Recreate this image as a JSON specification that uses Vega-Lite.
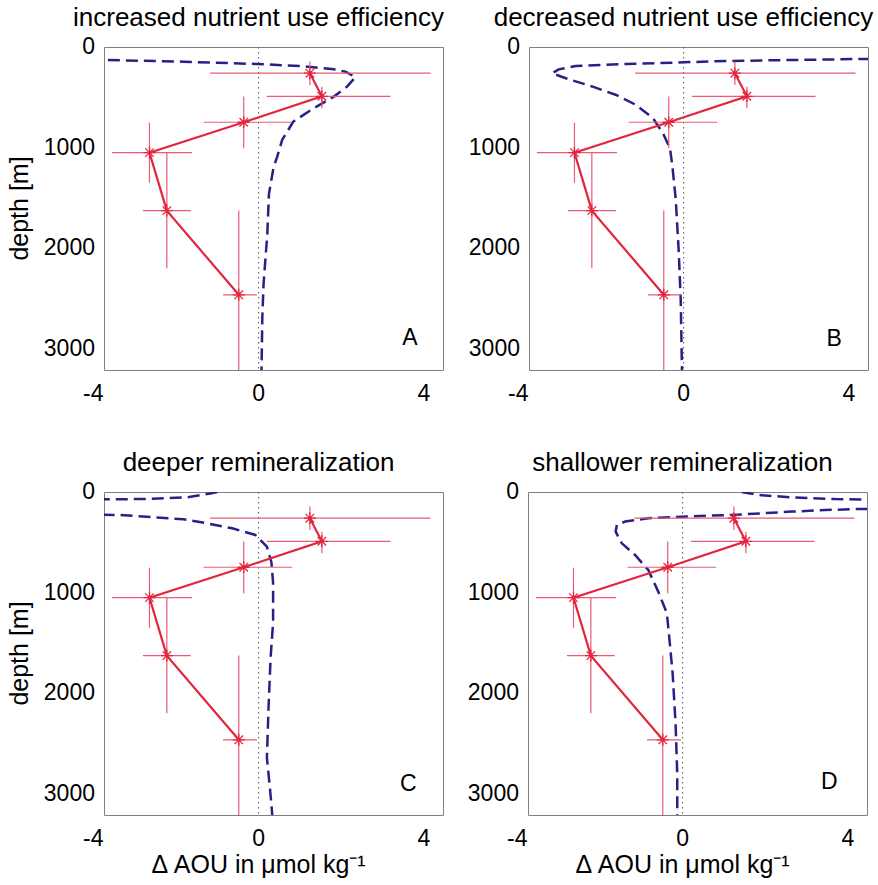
{
  "$schema": "https://vega.github.io/schema/vega-lite/v6.json",
  "background": "white",
  "padding": {"left": 7, "top": 4, "right": 5, "bottom": 5},
  "config": {
    "font": "Liberation Sans",
    "view": {"stroke": "#808080", "strokeWidth": 1},
    "title": {"fontSize": 26, "fontWeight": "normal", "color": "black", "font": "Liberation Sans", "baseline": "alphabetic", "offset": 5},
    "text": {"font": "Liberation Sans", "color": "black"}
  },
  "datasets": {
    "obs": [
      {"v": 1.24, "depth": 260, "vlo": -1.17, "vhi": 4.16, "dlo": 145, "dhi": 377},
      {"v": 1.53, "depth": 490, "vlo": 0.2, "vhi": 3.19, "dlo": 394, "dhi": 609},
      {"v": -0.36, "depth": 748, "vlo": -1.33, "vhi": 0.81, "dlo": 493, "dhi": 1006},
      {"v": -2.64, "depth": 1050, "vlo": -3.55, "vhi": -1.61, "dlo": 752, "dhi": 1350},
      {"v": -2.22, "depth": 1626, "vlo": -2.8, "vhi": -1.64, "dlo": 1050, "dhi": 2198},
      {"v": -0.48, "depth": 2463, "vlo": -0.86, "vhi": -0.04, "dlo": 1626, "dhi": 3300}
    ],
    "zero": [{"v": 0}],
    "xticks": [{"v": -4, "label": "-4"}, {"v": 0, "label": "0"}, {"v": 4, "label": "4"}],
    "yticks": [{"depth": 0, "label": "0"}, {"depth": 1000, "label": "1000"}, {"depth": 2000, "label": "2000"}, {"depth": 3000, "label": "3000"}],
    "ytitle": [{"label": "depth [m]"}],
    "xtitle": [{"label": "Δ AOU in μmol kg⁻¹"}],
    "letters": [
      {"panel": "A", "v": 3.66, "depth": 2893},
      {"panel": "B", "v": 3.64, "depth": 2905},
      {"panel": "C", "v": 3.62, "depth": 2900},
      {"panel": "D", "v": 3.55, "depth": 2887}
    ],
    "model": [
      {"panel": "A", "i": 0, "v": -8, "depth": 120},
      {"panel": "A", "i": 1, "v": -3.8, "depth": 129},
      {"panel": "A", "i": 2, "v": -1.82, "depth": 146},
      {"panel": "A", "i": 3, "v": -0.04, "depth": 169},
      {"panel": "A", "i": 4, "v": 1.01, "depth": 189},
      {"panel": "A", "i": 5, "v": 1.82, "depth": 222},
      {"panel": "A", "i": 6, "v": 2.1, "depth": 245},
      {"panel": "A", "i": 7, "v": 2.34, "depth": 300},
      {"panel": "A", "i": 8, "v": 2.14, "depth": 394},
      {"panel": "A", "i": 9, "v": 1.82, "depth": 493},
      {"panel": "A", "i": 10, "v": 1.33, "depth": 609},
      {"panel": "A", "i": 11, "v": 0.84, "depth": 741},
      {"panel": "A", "i": 12, "v": 0.57, "depth": 923},
      {"panel": "A", "i": 13, "v": 0.45, "depth": 1089},
      {"panel": "A", "i": 14, "v": 0.36, "depth": 1200},
      {"panel": "A", "i": 15, "v": 0.25, "depth": 1460},
      {"panel": "A", "i": 16, "v": 0.21, "depth": 1860},
      {"panel": "A", "i": 17, "v": 0.12, "depth": 2350},
      {"panel": "A", "i": 18, "v": 0.09, "depth": 2680},
      {"panel": "A", "i": 19, "v": 0.07, "depth": 3210},
      {"panel": "B", "i": 0, "v": 8, "depth": 110},
      {"panel": "B", "i": 1, "v": 4.3, "depth": 119},
      {"panel": "B", "i": 2, "v": 2.67, "depth": 129},
      {"panel": "B", "i": 3, "v": 1.05, "depth": 139},
      {"panel": "B", "i": 4, "v": 0, "depth": 152},
      {"panel": "B", "i": 5, "v": -1.39, "depth": 169},
      {"panel": "B", "i": 6, "v": -2.61, "depth": 189},
      {"panel": "B", "i": 7, "v": -3.02, "depth": 222},
      {"panel": "B", "i": 8, "v": -3.18, "depth": 261},
      {"panel": "B", "i": 9, "v": -2.85, "depth": 311},
      {"panel": "B", "i": 10, "v": -2.2, "depth": 394},
      {"panel": "B", "i": 11, "v": -1.63, "depth": 477},
      {"panel": "B", "i": 12, "v": -1.15, "depth": 576},
      {"panel": "B", "i": 13, "v": -0.74, "depth": 708},
      {"panel": "B", "i": 14, "v": -0.5, "depth": 857},
      {"panel": "B", "i": 15, "v": -0.33, "depth": 1006},
      {"panel": "B", "i": 16, "v": -0.27, "depth": 1189},
      {"panel": "B", "i": 17, "v": -0.19, "depth": 1519},
      {"panel": "B", "i": 18, "v": -0.12, "depth": 2016},
      {"panel": "B", "i": 19, "v": -0.07, "depth": 2512},
      {"panel": "B", "i": 20, "v": -0.04, "depth": 3210},
      {"panel": "C", "i": 0, "v": -1.0, "depth": 0},
      {"panel": "C", "i": 1, "v": -1.17, "depth": 15},
      {"panel": "C", "i": 2, "v": -1.73, "depth": 53},
      {"panel": "C", "i": 3, "v": -2.82, "depth": 70},
      {"panel": "C", "i": 4, "v": -3.75, "depth": 73},
      {"panel": "C", "i": 5, "v": -7, "depth": 80},
      {"panel": "C", "i": 6, "v": -7, "depth": 220},
      {"panel": "C", "i": 7, "v": -3.35, "depth": 228},
      {"panel": "C", "i": 8, "v": -2.5, "depth": 252},
      {"panel": "C", "i": 9, "v": -1.82, "depth": 271},
      {"panel": "C", "i": 10, "v": -1.25, "depth": 311},
      {"panel": "C", "i": 11, "v": -0.64, "depth": 361},
      {"panel": "C", "i": 12, "v": -0.08, "depth": 427},
      {"panel": "C", "i": 13, "v": 0.2, "depth": 543},
      {"panel": "C", "i": 14, "v": 0.31, "depth": 700},
      {"panel": "C", "i": 15, "v": 0.35, "depth": 900},
      {"panel": "C", "i": 16, "v": 0.35, "depth": 1300},
      {"panel": "C", "i": 17, "v": 0.29, "depth": 1645},
      {"panel": "C", "i": 18, "v": 0.24, "depth": 2142},
      {"panel": "C", "i": 19, "v": 0.2, "depth": 2638},
      {"panel": "C", "i": 20, "v": 0.28, "depth": 2969},
      {"panel": "C", "i": 21, "v": 0.33, "depth": 3210},
      {"panel": "D", "i": 0, "v": 1.43, "depth": 0},
      {"panel": "D", "i": 1, "v": 1.84, "depth": 30},
      {"panel": "D", "i": 2, "v": 2.64, "depth": 53},
      {"panel": "D", "i": 3, "v": 3.69, "depth": 70},
      {"panel": "D", "i": 4, "v": 7, "depth": 90},
      {"panel": "D", "i": 5, "v": 7, "depth": 160},
      {"panel": "D", "i": 6, "v": 4.26, "depth": 169},
      {"panel": "D", "i": 7, "v": 3.45, "depth": 179},
      {"panel": "D", "i": 8, "v": 2.64, "depth": 195},
      {"panel": "D", "i": 9, "v": 1.19, "depth": 228},
      {"panel": "D", "i": 10, "v": -0.02, "depth": 245},
      {"panel": "D", "i": 11, "v": -0.83, "depth": 261},
      {"panel": "D", "i": 12, "v": -1.39, "depth": 294},
      {"panel": "D", "i": 13, "v": -1.59, "depth": 328},
      {"panel": "D", "i": 14, "v": -1.62, "depth": 394},
      {"panel": "D", "i": 15, "v": -1.47, "depth": 510},
      {"panel": "D", "i": 16, "v": -1.15, "depth": 626},
      {"panel": "D", "i": 17, "v": -0.83, "depth": 775},
      {"panel": "D", "i": 18, "v": -0.59, "depth": 990},
      {"panel": "D", "i": 19, "v": -0.38, "depth": 1205},
      {"panel": "D", "i": 20, "v": -0.3, "depth": 1546},
      {"panel": "D", "i": 21, "v": -0.24, "depth": 1810},
      {"panel": "D", "i": 22, "v": -0.17, "depth": 2307},
      {"panel": "D", "i": 23, "v": -0.13, "depth": 2803},
      {"panel": "D", "i": 24, "v": -0.13, "depth": 3210}
    ]
  },
  "spacing": 42,
  "vconcat": [
    {"spacing": 23, "hconcat": [
    {
      "width": 339, "height": 323,
      "title": {"text": "increased nutrient use efficiency", "dx": -15},
      "layer": [
        {"data": {"name": "zero"}, "mark": {"type": "rule", "color": "#555555", "strokeDash": [1.5, 3.5], "strokeWidth": 1},
         "encoding": {"x": {"field": "v", "type": "quantitative", "scale": {"domain": [-3.74, 4.46], "nice": false, "zero": false}, "axis": null}}},
        {"data": {"name": "model"}, "transform": [{"filter": "datum.panel === 'A'"}],
         "mark": {"type": "line", "color": "#2b1e87", "strokeWidth": 2.5, "strokeDash": [12, 6], "clip": true},
         "encoding": {
           "x": {"field": "v", "type": "quantitative", "scale": {"domain": [-3.74, 4.46], "nice": false, "zero": false}, "axis": null},
           "y": {"field": "depth", "type": "quantitative", "scale": {"domain": [0, 3210], "reverse": true, "nice": false, "zero": false}, "axis": null},
           "order": {"field": "i", "type": "quantitative"}}},
        {"data": {"name": "obs"}, "mark": {"type": "rule", "color": "#ec5a74", "strokeWidth": 1.2, "clip": true},
         "encoding": {
           "x": {"field": "vlo", "type": "quantitative", "scale": {"domain": [-3.74, 4.46], "nice": false, "zero": false}, "axis": null},
           "x2": {"field": "vhi"},
           "y": {"field": "depth", "type": "quantitative", "scale": {"domain": [0, 3210], "reverse": true, "nice": false, "zero": false}, "axis": null}}},
        {"data": {"name": "obs"}, "mark": {"type": "rule", "color": "#ec5a74", "strokeWidth": 1.2, "clip": true},
         "encoding": {
           "x": {"field": "v", "type": "quantitative", "scale": {"domain": [-3.74, 4.46], "nice": false, "zero": false}, "axis": null},
           "y": {"field": "dlo", "type": "quantitative", "scale": {"domain": [0, 3210], "reverse": true, "nice": false, "zero": false}, "axis": null},
           "y2": {"field": "dhi"}}},
        {"data": {"name": "obs"}, "mark": {"type": "line", "color": "#e3263f", "strokeWidth": 2.2, "clip": true},
         "encoding": {
           "x": {"field": "v", "type": "quantitative", "scale": {"domain": [-3.74, 4.46], "nice": false, "zero": false}, "axis": null},
           "y": {"field": "depth", "type": "quantitative", "scale": {"domain": [0, 3210], "reverse": true, "nice": false, "zero": false}, "axis": null},
           "order": {"field": "depth", "type": "quantitative"}}},
        {"data": {"name": "obs"}, "mark": {"type": "point", "shape": "M-1,0L1,0M0,-1L0,1M-0.71,-0.71L0.71,0.71M-0.71,0.71L0.71,-0.71", "filled": false, "color": "#e3263f", "strokeWidth": 1.3, "size": 144, "opacity": 1},
         "encoding": {
           "x": {"field": "v", "type": "quantitative", "scale": {"domain": [-3.74, 4.46], "nice": false, "zero": false}, "axis": null},
           "y": {"field": "depth", "type": "quantitative", "scale": {"domain": [0, 3210], "reverse": true, "nice": false, "zero": false}, "axis": null}}},
        {"data": {"name": "letters"}, "transform": [{"filter": "datum.panel === 'A'"}],
         "mark": {"type": "text", "fontSize": 23, "align": "center", "baseline": "middle"},
         "encoding": {
           "x": {"field": "v", "type": "quantitative", "scale": {"domain": [-3.74, 4.46], "nice": false, "zero": false}, "axis": null},
           "y": {"field": "depth", "type": "quantitative", "scale": {"domain": [0, 3210], "reverse": true, "nice": false, "zero": false}, "axis": null},
           "text": {"field": "panel"}}},
        {"data": {"name": "xticks"}, "mark": {"type": "text", "fontSize": 23, "align": "center", "baseline": "alphabetic", "dy": 31},
         "encoding": {
           "x": {"field": "v", "type": "quantitative", "scale": {"domain": [-3.74, 4.46], "nice": false, "zero": false}, "axis": null},
           "y": {"datum": 3210, "type": "quantitative", "scale": {"domain": [0, 3210], "reverse": true, "nice": false, "zero": false}, "axis": null},
           "text": {"field": "label"}}},
        {"data": {"name": "yticks"}, "mark": {"type": "text", "fontSize": 23, "align": "right", "baseline": "middle", "dx": -9},
         "encoding": {
           "x": {"datum": -3.74, "type": "quantitative", "scale": {"domain": [-3.74, 4.46], "nice": false, "zero": false}, "axis": null},
           "y": {"field": "depth", "type": "quantitative", "scale": {"domain": [0, 3210], "reverse": true, "nice": false, "zero": false}, "axis": null},
           "text": {"field": "label"}}},
        {"data": {"name": "ytitle"}, "mark": {"type": "text", "fontSize": 25, "align": "center", "baseline": "alphabetic", "angle": 270, "dy": -76},
         "encoding": {
           "x": {"datum": -3.74, "type": "quantitative", "scale": {"domain": [-3.74, 4.46], "nice": false, "zero": false}, "axis": null},
           "y": {"datum": 1605, "type": "quantitative", "scale": {"domain": [0, 3210], "reverse": true, "nice": false, "zero": false}, "axis": null},
           "text": {"field": "label"}}}
      ]
    },
    {
      "width": 339, "height": 323,
      "title": {"text": "decreased nutrient use efficiency", "dx": -15},
      "layer": [
        {"data": {"name": "zero"}, "mark": {"type": "rule", "color": "#555555", "strokeDash": [1.5, 3.5], "strokeWidth": 1},
         "encoding": {"x": {"field": "v", "type": "quantitative", "scale": {"domain": [-3.74, 4.46], "nice": false, "zero": false}, "axis": null}}},
        {"data": {"name": "model"}, "transform": [{"filter": "datum.panel === 'B'"}],
         "mark": {"type": "line", "color": "#2b1e87", "strokeWidth": 2.5, "strokeDash": [12, 6], "clip": true},
         "encoding": {
           "x": {"field": "v", "type": "quantitative", "scale": {"domain": [-3.74, 4.46], "nice": false, "zero": false}, "axis": null},
           "y": {"field": "depth", "type": "quantitative", "scale": {"domain": [0, 3210], "reverse": true, "nice": false, "zero": false}, "axis": null},
           "order": {"field": "i", "type": "quantitative"}}},
        {"data": {"name": "obs"}, "mark": {"type": "rule", "color": "#ec5a74", "strokeWidth": 1.2, "clip": true},
         "encoding": {
           "x": {"field": "vlo", "type": "quantitative", "scale": {"domain": [-3.74, 4.46], "nice": false, "zero": false}, "axis": null},
           "x2": {"field": "vhi"},
           "y": {"field": "depth", "type": "quantitative", "scale": {"domain": [0, 3210], "reverse": true, "nice": false, "zero": false}, "axis": null}}},
        {"data": {"name": "obs"}, "mark": {"type": "rule", "color": "#ec5a74", "strokeWidth": 1.2, "clip": true},
         "encoding": {
           "x": {"field": "v", "type": "quantitative", "scale": {"domain": [-3.74, 4.46], "nice": false, "zero": false}, "axis": null},
           "y": {"field": "dlo", "type": "quantitative", "scale": {"domain": [0, 3210], "reverse": true, "nice": false, "zero": false}, "axis": null},
           "y2": {"field": "dhi"}}},
        {"data": {"name": "obs"}, "mark": {"type": "line", "color": "#e3263f", "strokeWidth": 2.2, "clip": true},
         "encoding": {
           "x": {"field": "v", "type": "quantitative", "scale": {"domain": [-3.74, 4.46], "nice": false, "zero": false}, "axis": null},
           "y": {"field": "depth", "type": "quantitative", "scale": {"domain": [0, 3210], "reverse": true, "nice": false, "zero": false}, "axis": null},
           "order": {"field": "depth", "type": "quantitative"}}},
        {"data": {"name": "obs"}, "mark": {"type": "point", "shape": "M-1,0L1,0M0,-1L0,1M-0.71,-0.71L0.71,0.71M-0.71,0.71L0.71,-0.71", "filled": false, "color": "#e3263f", "strokeWidth": 1.3, "size": 144, "opacity": 1},
         "encoding": {
           "x": {"field": "v", "type": "quantitative", "scale": {"domain": [-3.74, 4.46], "nice": false, "zero": false}, "axis": null},
           "y": {"field": "depth", "type": "quantitative", "scale": {"domain": [0, 3210], "reverse": true, "nice": false, "zero": false}, "axis": null}}},
        {"data": {"name": "letters"}, "transform": [{"filter": "datum.panel === 'B'"}],
         "mark": {"type": "text", "fontSize": 23, "align": "center", "baseline": "middle"},
         "encoding": {
           "x": {"field": "v", "type": "quantitative", "scale": {"domain": [-3.74, 4.46], "nice": false, "zero": false}, "axis": null},
           "y": {"field": "depth", "type": "quantitative", "scale": {"domain": [0, 3210], "reverse": true, "nice": false, "zero": false}, "axis": null},
           "text": {"field": "panel"}}},
        {"data": {"name": "xticks"}, "mark": {"type": "text", "fontSize": 23, "align": "center", "baseline": "alphabetic", "dy": 31},
         "encoding": {
           "x": {"field": "v", "type": "quantitative", "scale": {"domain": [-3.74, 4.46], "nice": false, "zero": false}, "axis": null},
           "y": {"datum": 3210, "type": "quantitative", "scale": {"domain": [0, 3210], "reverse": true, "nice": false, "zero": false}, "axis": null},
           "text": {"field": "label"}}},
        {"data": {"name": "yticks"}, "mark": {"type": "text", "fontSize": 23, "align": "right", "baseline": "middle", "dx": -9},
         "encoding": {
           "x": {"datum": -3.74, "type": "quantitative", "scale": {"domain": [-3.74, 4.46], "nice": false, "zero": false}, "axis": null},
           "y": {"field": "depth", "type": "quantitative", "scale": {"domain": [0, 3210], "reverse": true, "nice": false, "zero": false}, "axis": null},
           "text": {"field": "label"}}}
      ]
    }]},
    {"spacing": 23, "hconcat": [
    {
      "width": 339, "height": 323,
      "title": {"text": "deeper remineralization", "dx": -15},
      "layer": [
        {"data": {"name": "zero"}, "mark": {"type": "rule", "color": "#555555", "strokeDash": [1.5, 3.5], "strokeWidth": 1},
         "encoding": {"x": {"field": "v", "type": "quantitative", "scale": {"domain": [-3.74, 4.46], "nice": false, "zero": false}, "axis": null}}},
        {"data": {"name": "model"}, "transform": [{"filter": "datum.panel === 'C'"}],
         "mark": {"type": "line", "color": "#2b1e87", "strokeWidth": 2.5, "strokeDash": [12, 6], "clip": true},
         "encoding": {
           "x": {"field": "v", "type": "quantitative", "scale": {"domain": [-3.74, 4.46], "nice": false, "zero": false}, "axis": null},
           "y": {"field": "depth", "type": "quantitative", "scale": {"domain": [0, 3210], "reverse": true, "nice": false, "zero": false}, "axis": null},
           "order": {"field": "i", "type": "quantitative"}}},
        {"data": {"name": "obs"}, "mark": {"type": "rule", "color": "#ec5a74", "strokeWidth": 1.2, "clip": true},
         "encoding": {
           "x": {"field": "vlo", "type": "quantitative", "scale": {"domain": [-3.74, 4.46], "nice": false, "zero": false}, "axis": null},
           "x2": {"field": "vhi"},
           "y": {"field": "depth", "type": "quantitative", "scale": {"domain": [0, 3210], "reverse": true, "nice": false, "zero": false}, "axis": null}}},
        {"data": {"name": "obs"}, "mark": {"type": "rule", "color": "#ec5a74", "strokeWidth": 1.2, "clip": true},
         "encoding": {
           "x": {"field": "v", "type": "quantitative", "scale": {"domain": [-3.74, 4.46], "nice": false, "zero": false}, "axis": null},
           "y": {"field": "dlo", "type": "quantitative", "scale": {"domain": [0, 3210], "reverse": true, "nice": false, "zero": false}, "axis": null},
           "y2": {"field": "dhi"}}},
        {"data": {"name": "obs"}, "mark": {"type": "line", "color": "#e3263f", "strokeWidth": 2.2, "clip": true},
         "encoding": {
           "x": {"field": "v", "type": "quantitative", "scale": {"domain": [-3.74, 4.46], "nice": false, "zero": false}, "axis": null},
           "y": {"field": "depth", "type": "quantitative", "scale": {"domain": [0, 3210], "reverse": true, "nice": false, "zero": false}, "axis": null},
           "order": {"field": "depth", "type": "quantitative"}}},
        {"data": {"name": "obs"}, "mark": {"type": "point", "shape": "M-1,0L1,0M0,-1L0,1M-0.71,-0.71L0.71,0.71M-0.71,0.71L0.71,-0.71", "filled": false, "color": "#e3263f", "strokeWidth": 1.3, "size": 144, "opacity": 1},
         "encoding": {
           "x": {"field": "v", "type": "quantitative", "scale": {"domain": [-3.74, 4.46], "nice": false, "zero": false}, "axis": null},
           "y": {"field": "depth", "type": "quantitative", "scale": {"domain": [0, 3210], "reverse": true, "nice": false, "zero": false}, "axis": null}}},
        {"data": {"name": "letters"}, "transform": [{"filter": "datum.panel === 'C'"}],
         "mark": {"type": "text", "fontSize": 23, "align": "center", "baseline": "middle"},
         "encoding": {
           "x": {"field": "v", "type": "quantitative", "scale": {"domain": [-3.74, 4.46], "nice": false, "zero": false}, "axis": null},
           "y": {"field": "depth", "type": "quantitative", "scale": {"domain": [0, 3210], "reverse": true, "nice": false, "zero": false}, "axis": null},
           "text": {"field": "panel"}}},
        {"data": {"name": "xticks"}, "mark": {"type": "text", "fontSize": 23, "align": "center", "baseline": "alphabetic", "dy": 31},
         "encoding": {
           "x": {"field": "v", "type": "quantitative", "scale": {"domain": [-3.74, 4.46], "nice": false, "zero": false}, "axis": null},
           "y": {"datum": 3210, "type": "quantitative", "scale": {"domain": [0, 3210], "reverse": true, "nice": false, "zero": false}, "axis": null},
           "text": {"field": "label"}}},
        {"data": {"name": "yticks"}, "mark": {"type": "text", "fontSize": 23, "align": "right", "baseline": "middle", "dx": -9},
         "encoding": {
           "x": {"datum": -3.74, "type": "quantitative", "scale": {"domain": [-3.74, 4.46], "nice": false, "zero": false}, "axis": null},
           "y": {"field": "depth", "type": "quantitative", "scale": {"domain": [0, 3210], "reverse": true, "nice": false, "zero": false}, "axis": null},
           "text": {"field": "label"}}},
        {"data": {"name": "ytitle"}, "mark": {"type": "text", "fontSize": 25, "align": "center", "baseline": "alphabetic", "angle": 270, "dy": -76},
         "encoding": {
           "x": {"datum": -3.74, "type": "quantitative", "scale": {"domain": [-3.74, 4.46], "nice": false, "zero": false}, "axis": null},
           "y": {"datum": 1605, "type": "quantitative", "scale": {"domain": [0, 3210], "reverse": true, "nice": false, "zero": false}, "axis": null},
           "text": {"field": "label"}}},
        {"data": {"name": "xtitle"}, "mark": {"type": "text", "fontSize": 25, "align": "center", "baseline": "alphabetic", "dy": 58},
         "encoding": {
           "x": {"datum": 0, "type": "quantitative", "scale": {"domain": [-3.74, 4.46], "nice": false, "zero": false}, "axis": null},
           "y": {"datum": 3210, "type": "quantitative", "scale": {"domain": [0, 3210], "reverse": true, "nice": false, "zero": false}, "axis": null},
           "text": {"field": "label"}}}
      ]
    },
    {
      "width": 339, "height": 323,
      "title": {"text": "shallower remineralization", "dx": -15},
      "layer": [
        {"data": {"name": "zero"}, "mark": {"type": "rule", "color": "#555555", "strokeDash": [1.5, 3.5], "strokeWidth": 1},
         "encoding": {"x": {"field": "v", "type": "quantitative", "scale": {"domain": [-3.74, 4.46], "nice": false, "zero": false}, "axis": null}}},
        {"data": {"name": "model"}, "transform": [{"filter": "datum.panel === 'D'"}],
         "mark": {"type": "line", "color": "#2b1e87", "strokeWidth": 2.5, "strokeDash": [12, 6], "clip": true},
         "encoding": {
           "x": {"field": "v", "type": "quantitative", "scale": {"domain": [-3.74, 4.46], "nice": false, "zero": false}, "axis": null},
           "y": {"field": "depth", "type": "quantitative", "scale": {"domain": [0, 3210], "reverse": true, "nice": false, "zero": false}, "axis": null},
           "order": {"field": "i", "type": "quantitative"}}},
        {"data": {"name": "obs"}, "mark": {"type": "rule", "color": "#ec5a74", "strokeWidth": 1.2, "clip": true},
         "encoding": {
           "x": {"field": "vlo", "type": "quantitative", "scale": {"domain": [-3.74, 4.46], "nice": false, "zero": false}, "axis": null},
           "x2": {"field": "vhi"},
           "y": {"field": "depth", "type": "quantitative", "scale": {"domain": [0, 3210], "reverse": true, "nice": false, "zero": false}, "axis": null}}},
        {"data": {"name": "obs"}, "mark": {"type": "rule", "color": "#ec5a74", "strokeWidth": 1.2, "clip": true},
         "encoding": {
           "x": {"field": "v", "type": "quantitative", "scale": {"domain": [-3.74, 4.46], "nice": false, "zero": false}, "axis": null},
           "y": {"field": "dlo", "type": "quantitative", "scale": {"domain": [0, 3210], "reverse": true, "nice": false, "zero": false}, "axis": null},
           "y2": {"field": "dhi"}}},
        {"data": {"name": "obs"}, "mark": {"type": "line", "color": "#e3263f", "strokeWidth": 2.2, "clip": true},
         "encoding": {
           "x": {"field": "v", "type": "quantitative", "scale": {"domain": [-3.74, 4.46], "nice": false, "zero": false}, "axis": null},
           "y": {"field": "depth", "type": "quantitative", "scale": {"domain": [0, 3210], "reverse": true, "nice": false, "zero": false}, "axis": null},
           "order": {"field": "depth", "type": "quantitative"}}},
        {"data": {"name": "obs"}, "mark": {"type": "point", "shape": "M-1,0L1,0M0,-1L0,1M-0.71,-0.71L0.71,0.71M-0.71,0.71L0.71,-0.71", "filled": false, "color": "#e3263f", "strokeWidth": 1.3, "size": 144, "opacity": 1},
         "encoding": {
           "x": {"field": "v", "type": "quantitative", "scale": {"domain": [-3.74, 4.46], "nice": false, "zero": false}, "axis": null},
           "y": {"field": "depth", "type": "quantitative", "scale": {"domain": [0, 3210], "reverse": true, "nice": false, "zero": false}, "axis": null}}},
        {"data": {"name": "letters"}, "transform": [{"filter": "datum.panel === 'D'"}],
         "mark": {"type": "text", "fontSize": 23, "align": "center", "baseline": "middle"},
         "encoding": {
           "x": {"field": "v", "type": "quantitative", "scale": {"domain": [-3.74, 4.46], "nice": false, "zero": false}, "axis": null},
           "y": {"field": "depth", "type": "quantitative", "scale": {"domain": [0, 3210], "reverse": true, "nice": false, "zero": false}, "axis": null},
           "text": {"field": "panel"}}},
        {"data": {"name": "xticks"}, "mark": {"type": "text", "fontSize": 23, "align": "center", "baseline": "alphabetic", "dy": 31},
         "encoding": {
           "x": {"field": "v", "type": "quantitative", "scale": {"domain": [-3.74, 4.46], "nice": false, "zero": false}, "axis": null},
           "y": {"datum": 3210, "type": "quantitative", "scale": {"domain": [0, 3210], "reverse": true, "nice": false, "zero": false}, "axis": null},
           "text": {"field": "label"}}},
        {"data": {"name": "yticks"}, "mark": {"type": "text", "fontSize": 23, "align": "right", "baseline": "middle", "dx": -9},
         "encoding": {
           "x": {"datum": -3.74, "type": "quantitative", "scale": {"domain": [-3.74, 4.46], "nice": false, "zero": false}, "axis": null},
           "y": {"field": "depth", "type": "quantitative", "scale": {"domain": [0, 3210], "reverse": true, "nice": false, "zero": false}, "axis": null},
           "text": {"field": "label"}}},
        {"data": {"name": "xtitle"}, "mark": {"type": "text", "fontSize": 25, "align": "center", "baseline": "alphabetic", "dy": 58},
         "encoding": {
           "x": {"datum": 0, "type": "quantitative", "scale": {"domain": [-3.74, 4.46], "nice": false, "zero": false}, "axis": null},
           "y": {"datum": 3210, "type": "quantitative", "scale": {"domain": [0, 3210], "reverse": true, "nice": false, "zero": false}, "axis": null},
           "text": {"field": "label"}}}
      ]
    }]}
  ]
}
